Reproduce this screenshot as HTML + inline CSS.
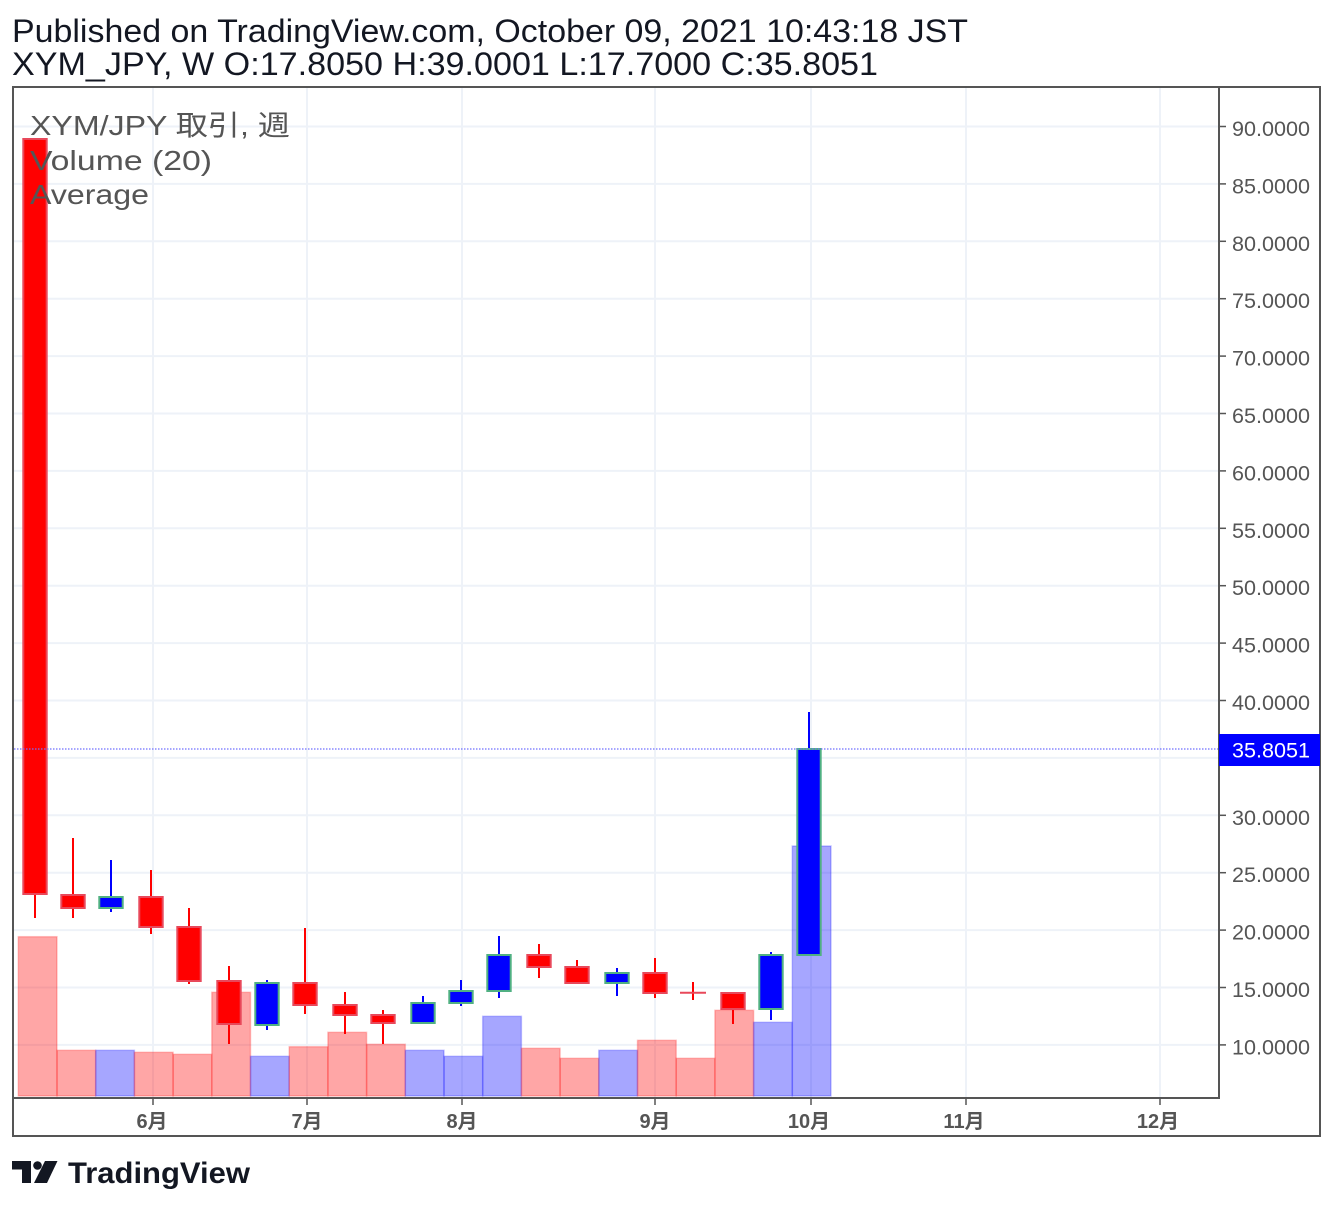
<!DOCTYPE html>
<html><head><meta charset="utf-8"><style>
html,body{margin:0;padding:0;background:#fff;}
svg{display:block;}
</style></head><body>
<svg width="1334" height="1210" viewBox="0 0 1334 1210" xmlns="http://www.w3.org/2000/svg">
<rect x="0" y="0" width="1334" height="1210" fill="#fff"/>
<!-- header -->
<g font-family="'Liberation Sans', sans-serif" font-size="32" fill="#131722">
<text x="12" y="42" textLength="956" lengthAdjust="spacingAndGlyphs">Published on TradingView.com, October 09, 2021 10:43:18 JST</text>
<text x="12" y="75" textLength="866" lengthAdjust="spacingAndGlyphs">XYM_JPY, W O:17.8050 H:39.0001 L:17.7000 C:35.8051</text>
</g>
<!-- grid -->
<g stroke="#eef2f8" stroke-width="2">
<line x1="14" x2="1218" y1="126.5" y2="126.5"/>
<line x1="14" x2="1218" y1="183.9" y2="183.9"/>
<line x1="14" x2="1218" y1="241.3" y2="241.3"/>
<line x1="14" x2="1218" y1="298.7" y2="298.7"/>
<line x1="14" x2="1218" y1="356.1" y2="356.1"/>
<line x1="14" x2="1218" y1="413.5" y2="413.5"/>
<line x1="14" x2="1218" y1="470.9" y2="470.9"/>
<line x1="14" x2="1218" y1="528.3" y2="528.3"/>
<line x1="14" x2="1218" y1="585.7" y2="585.7"/>
<line x1="14" x2="1218" y1="643.1" y2="643.1"/>
<line x1="14" x2="1218" y1="700.5" y2="700.5"/>
<line x1="14" x2="1218" y1="757.9" y2="757.9"/>
<line x1="14" x2="1218" y1="815.3" y2="815.3"/>
<line x1="14" x2="1218" y1="872.7" y2="872.7"/>
<line x1="14" x2="1218" y1="930.1" y2="930.1"/>
<line x1="14" x2="1218" y1="987.5" y2="987.5"/>
<line x1="14" x2="1218" y1="1044.9" y2="1044.9"/>
<line x1="153" x2="153" y1="88" y2="1097"/>
<line x1="307" x2="307" y1="88" y2="1097"/>
<line x1="462" x2="462" y1="88" y2="1097"/>
<line x1="655" x2="655" y1="88" y2="1097"/>
<line x1="811" x2="811" y1="88" y2="1097"/>
<line x1="966" x2="966" y1="88" y2="1097"/>
<line x1="1160" x2="1160" y1="88" y2="1097"/>
</g>
<!-- volume -->
<g stroke-width="1.5">
<rect x="18.3" y="936.7" width="38.7" height="159.3" fill="rgba(255,0,0,0.35)" stroke="rgba(255,0,0,0.22)"/>
<rect x="57.0" y="1050.3" width="38.7" height="45.7" fill="rgba(255,0,0,0.35)" stroke="rgba(255,0,0,0.22)"/>
<rect x="95.7" y="1050.3" width="38.7" height="45.7" fill="rgba(0,0,255,0.35)" stroke="rgba(0,0,255,0.22)"/>
<rect x="134.4" y="1052.3" width="38.7" height="43.7" fill="rgba(255,0,0,0.35)" stroke="rgba(255,0,0,0.22)"/>
<rect x="173.1" y="1054.3" width="38.7" height="41.7" fill="rgba(255,0,0,0.35)" stroke="rgba(255,0,0,0.22)"/>
<rect x="211.8" y="992.3" width="38.7" height="103.7" fill="rgba(255,0,0,0.35)" stroke="rgba(255,0,0,0.22)"/>
<rect x="250.5" y="1056.3" width="38.7" height="39.7" fill="rgba(0,0,255,0.35)" stroke="rgba(0,0,255,0.22)"/>
<rect x="289.2" y="1046.7" width="38.7" height="49.3" fill="rgba(255,0,0,0.35)" stroke="rgba(255,0,0,0.22)"/>
<rect x="327.9" y="1032.3" width="38.7" height="63.7" fill="rgba(255,0,0,0.35)" stroke="rgba(255,0,0,0.22)"/>
<rect x="366.6" y="1044.3" width="38.7" height="51.7" fill="rgba(255,0,0,0.35)" stroke="rgba(255,0,0,0.22)"/>
<rect x="405.3" y="1050.3" width="38.7" height="45.7" fill="rgba(0,0,255,0.35)" stroke="rgba(0,0,255,0.22)"/>
<rect x="444.0" y="1056.3" width="38.7" height="39.7" fill="rgba(0,0,255,0.35)" stroke="rgba(0,0,255,0.22)"/>
<rect x="482.7" y="1016.3" width="38.7" height="79.7" fill="rgba(0,0,255,0.35)" stroke="rgba(0,0,255,0.22)"/>
<rect x="521.4" y="1048.3" width="38.7" height="47.7" fill="rgba(255,0,0,0.35)" stroke="rgba(255,0,0,0.22)"/>
<rect x="560.1" y="1058.3" width="38.7" height="37.7" fill="rgba(255,0,0,0.35)" stroke="rgba(255,0,0,0.22)"/>
<rect x="598.8" y="1050.3" width="38.7" height="45.7" fill="rgba(0,0,255,0.35)" stroke="rgba(0,0,255,0.22)"/>
<rect x="637.5" y="1040.3" width="38.7" height="55.7" fill="rgba(255,0,0,0.35)" stroke="rgba(255,0,0,0.22)"/>
<rect x="676.2" y="1058.3" width="38.7" height="37.7" fill="rgba(255,0,0,0.35)" stroke="rgba(255,0,0,0.22)"/>
<rect x="714.9" y="1010.3" width="38.7" height="85.7" fill="rgba(255,0,0,0.35)" stroke="rgba(255,0,0,0.22)"/>
<rect x="753.6" y="1022.3" width="38.7" height="73.7" fill="rgba(0,0,255,0.35)" stroke="rgba(0,0,255,0.22)"/>
<rect x="792.3" y="846" width="38.7" height="250" fill="rgba(0,0,255,0.35)" stroke="rgba(0,0,255,0.22)"/>
</g>
<!-- wicks -->
<g stroke-width="2">
<line x1="35" x2="35" y1="138" y2="918" stroke="#f00"/>
<line x1="73" x2="73" y1="838" y2="918" stroke="#f00"/>
<line x1="111" x2="111" y1="860" y2="912" stroke="#00f"/>
<line x1="151" x2="151" y1="870" y2="934" stroke="#f00"/>
<line x1="189" x2="189" y1="908" y2="984" stroke="#f00"/>
<line x1="229" x2="229" y1="966" y2="1044" stroke="#f00"/>
<line x1="267" x2="267" y1="980" y2="1030" stroke="#00f"/>
<line x1="305" x2="305" y1="928" y2="1014" stroke="#f00"/>
<line x1="345" x2="345" y1="992" y2="1034" stroke="#f00"/>
<line x1="383" x2="383" y1="1010" y2="1044" stroke="#f00"/>
<line x1="423" x2="423" y1="996" y2="1024" stroke="#00f"/>
<line x1="461" x2="461" y1="980" y2="1006" stroke="#00f"/>
<line x1="499" x2="499" y1="936" y2="998" stroke="#00f"/>
<line x1="539" x2="539" y1="944" y2="978" stroke="#f00"/>
<line x1="577" x2="577" y1="960" y2="984" stroke="#f00"/>
<line x1="617" x2="617" y1="968" y2="996" stroke="#00f"/>
<line x1="655" x2="655" y1="958" y2="998" stroke="#f00"/>
<line x1="693" x2="693" y1="982" y2="1000" stroke="#f00"/>
<line x1="733" x2="733" y1="992" y2="1024" stroke="#f00"/>
<line x1="771" x2="771" y1="952" y2="1020" stroke="#00f"/>
<line x1="809" x2="809" y1="712" y2="956" stroke="#00f"/>
</g>
<!-- bodies -->
<g stroke-width="2">
<rect x="23.3" y="139" width="23.4" height="755" fill="#f00" stroke="#e8485a"/>
<rect x="61.3" y="895" width="23.4" height="13" fill="#f00" stroke="#e8485a"/>
<rect x="99.3" y="897" width="23.4" height="11" fill="#00f" stroke="#50b082"/>
<rect x="139.3" y="897" width="23.4" height="30" fill="#f00" stroke="#e8485a"/>
<rect x="177.3" y="927" width="23.4" height="54" fill="#f00" stroke="#e8485a"/>
<rect x="217.3" y="981" width="23.4" height="43" fill="#f00" stroke="#e8485a"/>
<rect x="255.3" y="983" width="23.4" height="42" fill="#00f" stroke="#50b082"/>
<rect x="293.3" y="983" width="23.4" height="22" fill="#f00" stroke="#e8485a"/>
<rect x="333.3" y="1005" width="23.4" height="10" fill="#f00" stroke="#e8485a"/>
<rect x="371.3" y="1015" width="23.4" height="8" fill="#f00" stroke="#e8485a"/>
<rect x="411.3" y="1003" width="23.4" height="20" fill="#00f" stroke="#50b082"/>
<rect x="449.3" y="991" width="23.4" height="12" fill="#00f" stroke="#50b082"/>
<rect x="487.3" y="955" width="23.4" height="36" fill="#00f" stroke="#50b082"/>
<rect x="527.3" y="955" width="23.4" height="12" fill="#f00" stroke="#e8485a"/>
<rect x="565.3" y="967" width="23.4" height="16" fill="#f00" stroke="#e8485a"/>
<rect x="605.3" y="973" width="23.4" height="10" fill="#00f" stroke="#50b082"/>
<rect x="643.3" y="973" width="23.4" height="20" fill="#f00" stroke="#e8485a"/>
<line x1="680" x2="706" y1="992.7" y2="992.7" stroke="#e8485a"/>
<rect x="721.3" y="993" width="23.4" height="16" fill="#f00" stroke="#e8485a"/>
<rect x="759.3" y="955" width="23.4" height="54" fill="#00f" stroke="#50b082"/>
<rect x="797.3" y="749" width="23.4" height="206" fill="#00f" stroke="#50b082"/>
</g>
<!-- price line -->
<line x1="14" x2="1226" y1="749" y2="749" stroke="#6f6fff" stroke-width="1.2" stroke-dasharray="1.5 1.5"/>
<!-- legend -->
<g font-family="'Liberation Sans', 'Noto Sans CJK JP', sans-serif" font-size="28" fill="#555">
<text x="30" y="135" textLength="260" lengthAdjust="spacingAndGlyphs">XYM/JPY 取引, 週</text>
<text x="30" y="170" textLength="182" lengthAdjust="spacingAndGlyphs">Volume (20)</text>
<text x="30" y="204" textLength="119" lengthAdjust="spacingAndGlyphs">Average</text>
</g>
<!-- frame & axes -->
<rect x="13" y="87" width="1307" height="1049" fill="none" stroke="#555" stroke-width="2"/>
<line x1="1219" x2="1219" y1="87" y2="1098" stroke="#555" stroke-width="2"/>
<line x1="13" x2="1220" y1="1098" y2="1098" stroke="#555" stroke-width="2"/>
<!-- y ticks -->
<g stroke="#555" stroke-width="1.5">
<line x1="1219" x2="1226" y1="126.5" y2="126.5"/>
<line x1="1219" x2="1226" y1="183.9" y2="183.9"/>
<line x1="1219" x2="1226" y1="241.3" y2="241.3"/>
<line x1="1219" x2="1226" y1="298.7" y2="298.7"/>
<line x1="1219" x2="1226" y1="356.1" y2="356.1"/>
<line x1="1219" x2="1226" y1="413.5" y2="413.5"/>
<line x1="1219" x2="1226" y1="470.9" y2="470.9"/>
<line x1="1219" x2="1226" y1="528.3" y2="528.3"/>
<line x1="1219" x2="1226" y1="585.7" y2="585.7"/>
<line x1="1219" x2="1226" y1="643.1" y2="643.1"/>
<line x1="1219" x2="1226" y1="700.5" y2="700.5"/>
<line x1="1219" x2="1226" y1="815.3" y2="815.3"/>
<line x1="1219" x2="1226" y1="872.7" y2="872.7"/>
<line x1="1219" x2="1226" y1="930.1" y2="930.1"/>
<line x1="1219" x2="1226" y1="987.5" y2="987.5"/>
<line x1="1219" x2="1226" y1="1044.9" y2="1044.9"/>
<line x1="153" x2="153" y1="1098" y2="1105"/>
<line x1="307" x2="307" y1="1098" y2="1105"/>
<line x1="462" x2="462" y1="1098" y2="1105"/>
<line x1="655" x2="655" y1="1098" y2="1105"/>
<line x1="811" x2="811" y1="1098" y2="1105"/>
<line x1="966" x2="966" y1="1098" y2="1105"/>
<line x1="1160" x2="1160" y1="1098" y2="1105"/>
</g>
<g font-family="'Liberation Sans', sans-serif" font-size="21" fill="#555">
<text x="1232" y="136" textLength="78" lengthAdjust="spacingAndGlyphs">90.0000</text>
<text x="1232" y="193.4" textLength="78" lengthAdjust="spacingAndGlyphs">85.0000</text>
<text x="1232" y="250.8" textLength="78" lengthAdjust="spacingAndGlyphs">80.0000</text>
<text x="1232" y="308.2" textLength="78" lengthAdjust="spacingAndGlyphs">75.0000</text>
<text x="1232" y="365.6" textLength="78" lengthAdjust="spacingAndGlyphs">70.0000</text>
<text x="1232" y="423" textLength="78" lengthAdjust="spacingAndGlyphs">65.0000</text>
<text x="1232" y="480.4" textLength="78" lengthAdjust="spacingAndGlyphs">60.0000</text>
<text x="1232" y="537.8" textLength="78" lengthAdjust="spacingAndGlyphs">55.0000</text>
<text x="1232" y="595.2" textLength="78" lengthAdjust="spacingAndGlyphs">50.0000</text>
<text x="1232" y="652.6" textLength="78" lengthAdjust="spacingAndGlyphs">45.0000</text>
<text x="1232" y="710" textLength="78" lengthAdjust="spacingAndGlyphs">40.0000</text>
<text x="1232" y="824.8" textLength="78" lengthAdjust="spacingAndGlyphs">30.0000</text>
<text x="1232" y="882.2" textLength="78" lengthAdjust="spacingAndGlyphs">25.0000</text>
<text x="1232" y="939.6" textLength="78" lengthAdjust="spacingAndGlyphs">20.0000</text>
<text x="1232" y="997" textLength="78" lengthAdjust="spacingAndGlyphs">15.0000</text>
<text x="1232" y="1054.4" textLength="78" lengthAdjust="spacingAndGlyphs">10.0000</text>
</g>
<!-- price label -->
<rect x="1219" y="734" width="101" height="32" fill="#0000ff"/>
<text x="1232" y="757.5" font-family="'Liberation Sans', sans-serif" font-size="21" fill="#fff" textLength="78" lengthAdjust="spacingAndGlyphs">35.8051</text>
<!-- x labels -->
<g font-family="'Liberation Sans', 'Noto Sans CJK JP', sans-serif" font-size="20" font-weight="bold" fill="#555" text-anchor="middle">
<text x="152" y="1128">6月</text>
<text x="307" y="1128">7月</text>
<text x="462" y="1128">8月</text>
<text x="655" y="1128">9月</text>
<text x="809" y="1128">10月</text>
<text x="964" y="1128">11月</text>
<text x="1158" y="1128">12月</text>
</g>
<!-- logo -->
<g fill="#131722">
<path d="M12 1161 H31 V1183 H22 V1169.5 H12 Z"/>
<circle cx="37.5" cy="1165.5" r="4.3"/>
<path d="M45 1161 H57.5 L47 1183 H34 Z"/>
<text x="68" y="1183" font-family="'Liberation Sans', sans-serif" font-size="30" font-weight="bold" textLength="182" lengthAdjust="spacingAndGlyphs">TradingView</text>
</g>
</svg>
</body></html>
